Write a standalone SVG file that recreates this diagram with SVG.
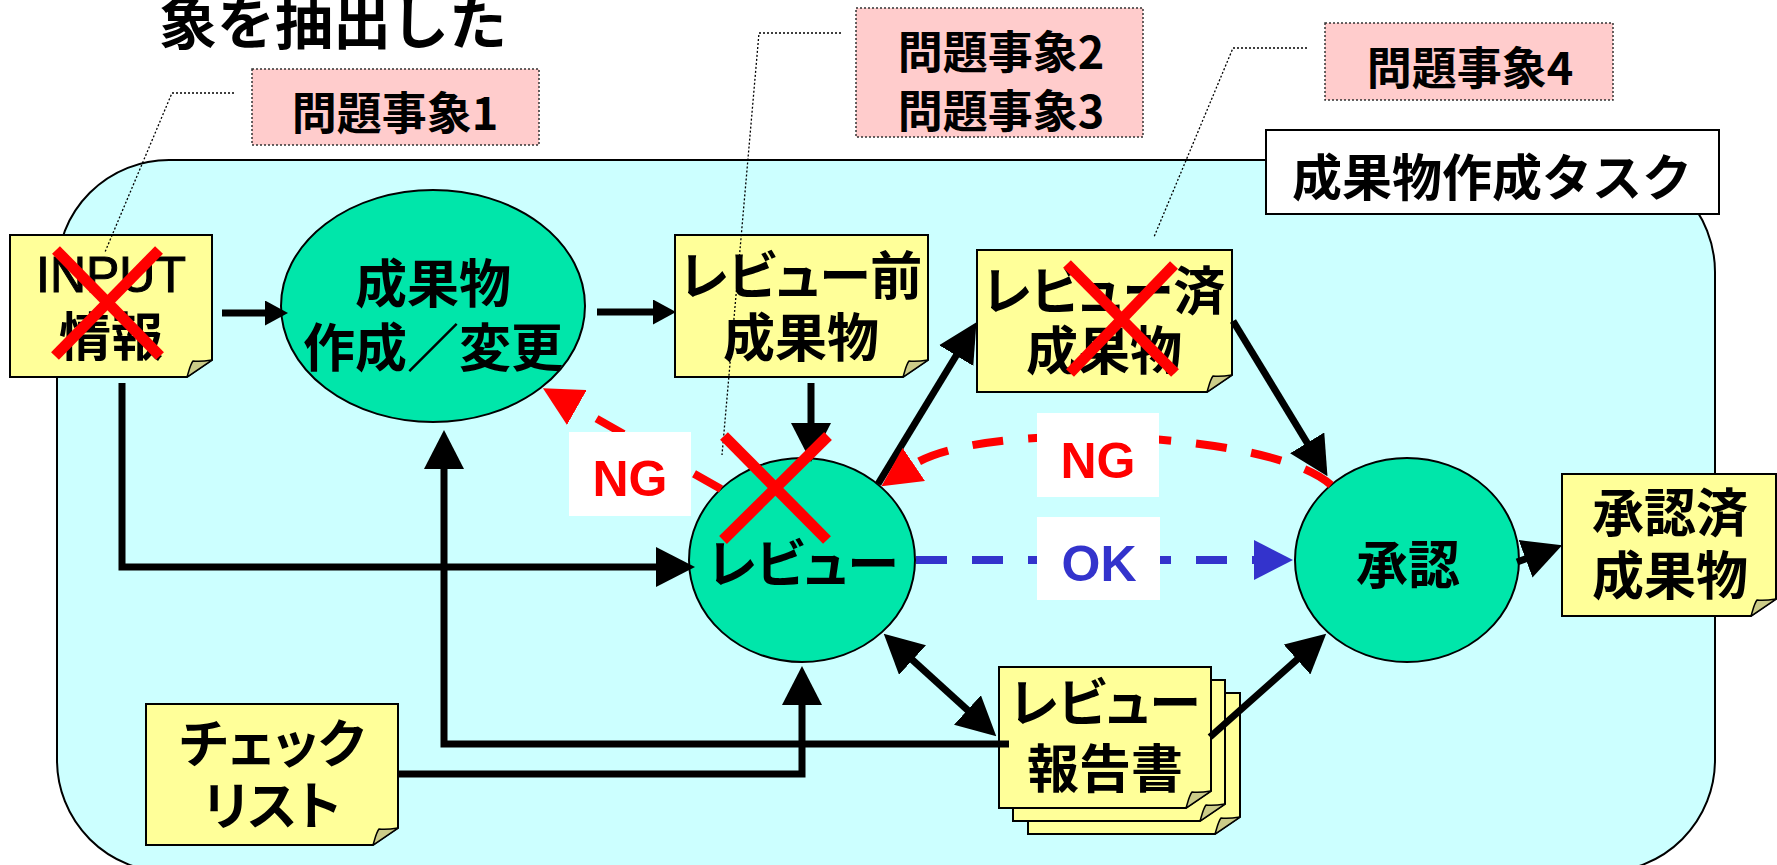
<svg xmlns="http://www.w3.org/2000/svg" xmlns:xlink="http://www.w3.org/1999/xlink" width="1777" height="865" viewBox="0 0 1777 865">
<style>
.note{fill:#FFFF99;stroke:#000;stroke-width:2}
.fold{fill:#CCCC88;stroke:#000;stroke-width:1.5;stroke-linejoin:round}
.proc{fill:#00E6AA;stroke:#000;stroke-width:2}
.issue{fill:#FFCCCC;stroke:#333;stroke-width:1.5;stroke-dasharray:2 2}
.lead{fill:none;stroke:#000;stroke-width:1.3;stroke-dasharray:2 2}
.ln{fill:none;stroke:#000;stroke-width:7;stroke-linejoin:miter}
.ng{fill:none;stroke:#FF0000;stroke-width:8;stroke-dasharray:31 25}
.ok{fill:none;stroke:#3333CC;stroke-width:8;stroke-dasharray:31 25}
.lbl{fill:#FFFFFF}
.x line{stroke:#FF0000;stroke-width:11}
.jp{font-family:"Noto Sans CJK JP","Noto Sans CJK SC",sans-serif;font-weight:700;fill:#000;text-anchor:middle;font-size:52px}
.kana{font-feature-settings:"palt"}
.lat{font-family:"Liberation Sans",Arial,sans-serif;text-anchor:middle;font-size:50px;font-weight:700}
.iss{font-size:45px}
</style>
<defs>
<path id="fold" class="fold" d="M0,-17 L-25,0 C-23,-6 -22,-12 -19,-16 C-12,-15 -6,-16 0,-17 Z"/>
<marker id="ah-s" viewBox="0 -12.5 23 25" markerWidth="23" markerHeight="25" refX="1" refY="0" orient="auto" markerUnits="userSpaceOnUse"><path d="M0,-12.5 L23,0 L0,12.5 Z" fill="#000"/></marker>
<marker id="ah" viewBox="0 -20 39 40" markerWidth="39" markerHeight="40" refX="1" refY="0" orient="auto-start-reverse" markerUnits="userSpaceOnUse"><path d="M0,-20 L39,0 L0,20 Z" fill="#000"/></marker>
<marker id="ah-r" viewBox="0 -20 39 40" markerWidth="39" markerHeight="40" refX="1" refY="0" orient="auto" markerUnits="userSpaceOnUse"><path d="M0,-20 L39,0 L0,20 Z" fill="#FF0000"/></marker>
<marker id="ah-b" viewBox="0 -20 39 40" markerWidth="39" markerHeight="40" refX="1" refY="0" orient="auto" markerUnits="userSpaceOnUse"><path d="M0,-20 L39,0 L0,20 Z" fill="#3333CC"/></marker>
</defs>

<g id="title">
<text x="159" y="44" class="jp" style="text-anchor:start;font-size:58px">象を抽出した</text>
</g>

<g id="container">
<rect x="57" y="160" width="1658" height="712" rx="112" fill="#CCFFFF" stroke="#000" stroke-width="2"/>
</g>

<g id="task-label">
<rect x="1266" y="130" width="453" height="84" fill="#FFFFFF" stroke="#000" stroke-width="2"/>
<text x="1492" y="196" class="jp" style="font-size:50px">成果物作成タスク</text>
</g>

<g id="input">
<path class="note" d="M10,235 H212 V360 L187,377 H10 Z"/>
<use xlink:href="#fold" x="212" y="377"/>
<text x="111" y="292" class="lat" style="font-size:50px;font-weight:400;stroke:#000;stroke-width:1">INPUT</text>
<text x="111" y="356" class="jp">情報</text>
</g>

<g id="create">
<ellipse class="proc" cx="433" cy="306" rx="152" ry="116"/>
<text x="433" y="303" class="jp">成果物</text>
<text x="433" y="367" class="jp">作成／変更</text>
</g>

<g id="pre-review">
<path class="note" d="M675,235 H928 V360 L903,377 H675 Z"/>
<use xlink:href="#fold" x="928" y="377"/>
<text x="801" y="295" class="jp kana">レビュー前</text>
<text x="801" y="357" class="jp">成果物</text>
</g>

<g id="reviewed">
<path class="note" d="M977,250 H1232 V375 L1207,392 H977 Z"/>
<use xlink:href="#fold" x="1232" y="392"/>
<text x="1104" y="310" class="jp kana">レビュー済</text>
<text x="1104" y="370" class="jp">成果物</text>
</g>

<g id="review">
<ellipse class="proc" cx="802" cy="560" rx="113" ry="102"/>
<text x="803" y="583" class="jp kana">レビュー</text>
</g>

<g id="approve">
<ellipse class="proc" cx="1407" cy="560" rx="112" ry="102"/>
<text x="1408" y="584" class="jp">承認</text>
</g>

<g id="approved">
<path class="note" d="M1562,474 H1776 V599 L1751,616 H1562 Z"/>
<use xlink:href="#fold" x="1776" y="616"/>
<text x="1670" y="532" class="jp">承認済</text>
<text x="1670" y="595" class="jp">成果物</text>
</g>

<g id="checklist">
<path class="note" d="M146,704 H398 V828 L373,845 H146 Z"/>
<use xlink:href="#fold" x="398" y="845"/>
<text x="272" y="763" class="jp kana">チェック</text>
<text x="272" y="825" class="jp kana">リスト</text>
</g>

<g id="report">
<path class="note" d="M1028,693 H1240 V817 L1215,834 H1028 Z"/>
<use xlink:href="#fold" x="1240" y="834"/>
<path class="note" d="M1013,680 H1225 V804 L1200,821 H1013 Z"/>
<use xlink:href="#fold" x="1225" y="821"/>
<path class="note" d="M999,667 H1211 V791 L1186,808 H999 Z"/>
<use xlink:href="#fold" x="1211" y="808"/>
<text x="1105" y="722" class="jp kana">レビュー</text>
<text x="1105" y="788" class="jp">報告書</text>
</g>

<g id="connectors">
<path class="ln" d="M222,313 H266" marker-end="url(#ah-s)"/>
<path class="ln" d="M597,312 H654" marker-end="url(#ah-s)"/>
<path class="ln" d="M811,383 V424" marker-end="url(#ah)"/>
<path class="ln" d="M122,383 V567 H657" marker-end="url(#ah)"/>
<path class="ln" d="M1009,744 H444 V468" marker-end="url(#ah)"/>
<path class="ln" d="M398,774 H802 V704" marker-end="url(#ah)"/>
<path class="ln" d="M878,484 L956.7,354.7" marker-end="url(#ah)"/>
<path class="ln" d="M1233,321 L1307.7,443.7" marker-end="url(#ah)"/>
<path class="ln" d="M1517,562 L1526.5,558.5" marker-end="url(#ah)"/>
<path class="ln" d="M1210,737 L1297.8,658.9" marker-end="url(#ah)"/>
<path class="ln" d="M911.8,659.3 L968.2,710.7" marker-start="url(#ah)" marker-end="url(#ah)"/>
<path class="ng" d="M721,489 L576,407" marker-end="url(#ah-r)"/>
<path class="ng" d="M1331,485 C1270,430 980,420 913,465" marker-end="url(#ah-r)"/>
<path class="ok" d="M916,560 H1255" marker-end="url(#ah-b)"/>
<g id="label-ng-left">
<rect class="lbl" x="569" y="432" width="122" height="84"/>
<text x="630" y="496" class="lat" fill="#FF0000">NG</text>
</g>
<g id="label-ng-right">
<rect class="lbl" x="1037" y="413" width="122" height="84"/>
<text x="1098" y="478" class="lat" fill="#FF0000">NG</text>
</g>
<g id="label-ok">
<rect class="lbl" x="1037" y="517" width="123" height="83"/>
<text x="1099" y="581" class="lat" fill="#3333CC">OK</text>
</g>
</g>

<g id="leaders">
<path class="lead" d="M234,93 H172 L105,252"/>
<path class="lead" d="M841,33 H759 L722,455"/>
<path class="lead" d="M1307,48 H1233 L1154,237"/>
</g>

<g id="issue1">
<rect class="issue" x="252" y="69" width="287" height="76"/>
<text x="395" y="130" class="jp iss">問題事象1</text>
</g>
<g id="issue23">
<rect class="issue" x="856" y="8" width="287" height="129"/>
<text x="1001" y="69" class="jp iss">問題事象2</text>
<text x="1001" y="128" class="jp iss">問題事象3</text>
</g>
<g id="issue4">
<rect class="issue" x="1325" y="23" width="288" height="77"/>
<text x="1470" y="85" class="jp iss">問題事象4</text>
</g>

<g id="marks" class="x">
<line x1="56" y1="250" x2="160" y2="356"/>
<line x1="159" y1="250" x2="55" y2="356"/>
<line x1="724" y1="436" x2="827" y2="540"/>
<line x1="828" y1="436" x2="723" y2="540"/>
<line x1="1067" y1="264" x2="1175" y2="373"/>
<line x1="1174" y1="265" x2="1070" y2="373"/>
</g>
</svg>
